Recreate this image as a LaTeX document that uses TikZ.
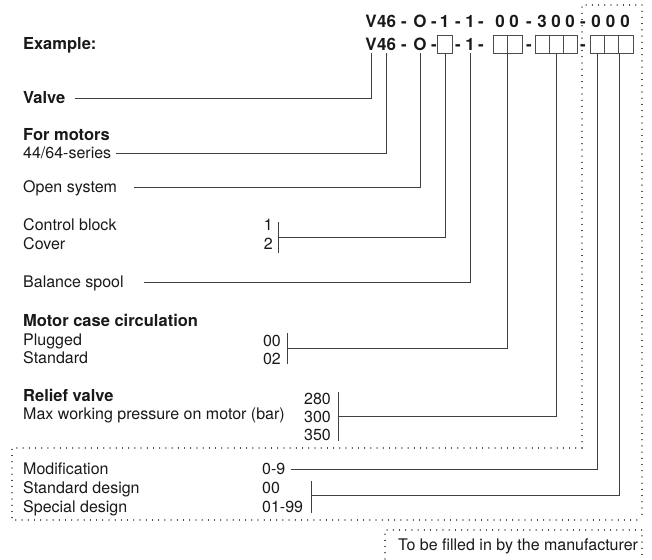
\documentclass[tikz,border=0pt]{standalone}
\usepackage{fontspec}
\setmainfont{TeX Gyre Heros}
\begin{document}
\begin{tikzpicture}[x=1pt,y=-1pt,
 txt/.style={inner sep=0pt, font=\fontsize{16}{18}\selectfont, text height=11.5pt, text depth=0pt, text=black!90},
 btxt/.style={inner sep=0pt, font=\fontsize{16.5}{18}\selectfont\bfseries, text height=11.8pt, text depth=0pt, text=black!90},
 hdr/.style={inner sep=0pt, font=\fontsize{17}{19}\selectfont\bfseries, text height=12.2pt, text depth=0pt, text=black!90},
 digbox/.style={draw=black!70, line width=0.9pt, inner sep=0pt, minimum width=14.4pt, minimum height=18pt},
 conn/.style={draw=black!75, line width=0.9pt},
 dots/.style={draw=black!85, line width=1.2pt, dash pattern=on 0.01pt off 6.2pt, line cap=round}]
\useasboundingbox (0,0) rectangle (652,559);

% header row 1
\node[hdr] (aV) at (371,21) {V};
\node[hdr] (a46) at (386.5,21) {46};
\node[hdr] (ad1) at (404,21) {-};
\node[hdr] (aO) at (420,21) {O};
\node[hdr] (ad2) at (434,21) {-};
\node[hdr] (a1) at (444.5,21) {1};
\node[hdr] (ad3) at (458,21) {-};
\node[hdr] (a1b) at (470,21) {1};
\node[hdr] (ad4) at (481,21) {-};
\node[hdr] (a0a) at (500,21) {0};
\node[hdr] (a0b) at (514,21) {0};
\node[hdr] (ad5) at (529,21) {-};
\node[hdr] (a3) at (542,21) {3};
\node[hdr] (a0c) at (556,21) {0};
\node[hdr] (a0d) at (570,21) {0};
\node[hdr] (ad6) at (583,21) {-};
\node[hdr] (a0e) at (596,21) {0};
\node[hdr] (a0f) at (610.5,21) {0};
\node[hdr] (a0g) at (625,21) {0};

% header row 2
\node[btxt, anchor=west] (ex) at (23,44) {Example:};
\node[hdr] (bV) at (371,44) {V};
\node[hdr] (b46) at (386.5,44) {46};
\node[hdr] (bd1) at (404,44) {-};
\node[hdr] (bO) at (420,44) {O};
\node[hdr] (bd2) at (434,44) {-};
\node[digbox] (b1) at (445,44) {};
\node[hdr] (bd3) at (458,44) {-};
\node[hdr] (b1b) at (470,44) {1};
\node[hdr] (bd4) at (481,44) {-};
\node[digbox] (b2a) at (500.25,44) {};
\node[digbox] (b2b) at (514.75,44) {};
\node[hdr] (bd5) at (529,44) {-};
\node[digbox, minimum width=14pt] (b3a) at (542,44) {};
\node[digbox, minimum width=14pt] (b3b) at (556,44) {};
\node[digbox, minimum width=14pt] (b3c) at (570,44) {};
\node[hdr] (bd6) at (583,44) {-};
\node[digbox, minimum width=14.3pt] (b4a) at (597.2,44) {};
\node[digbox, minimum width=14.3pt] (b4b) at (611.5,44) {};
\node[digbox, minimum width=14.3pt] (b4c) at (625.8,44) {};

% left labels
\node[btxt, anchor=west] (valve) at (23,98) {Valve};
\node[btxt, anchor=west] (motors) at (23,135) {For motors};
\node[txt, anchor=west] (series) at (23,153) {44/64-series};
\node[txt, anchor=west] (open) at (23,187) {Open system};
\node[txt, anchor=west] (cb) at (23,225) {Control block};
\node[txt, anchor=west] (cover) at (23,244) {Cover};
\node[txt, anchor=east] (n1) at (273,225) {1};
\node[txt, anchor=east] (n2) at (273,244) {2};
\node[txt, anchor=west] (bal) at (23,282) {Balance spool};
\node[btxt, anchor=west] (mcc) at (23,321) {Motor case circulation};
\node[txt, anchor=west] (plug) at (23,340) {Plugged};
\node[txt, anchor=west] (std) at (23,358) {Standard};
\node[txt, anchor=east] (n00) at (281,341) {00};
\node[txt, anchor=east] (n02) at (281,359) {02};
\node[btxt, anchor=west] (rv) at (23,396) {Relief valve};
\node[txt, anchor=west] (mwp) at (23,414) {Max working pressure on motor (bar)};
\node[txt, anchor=east] (p280) at (331,399) {280};
\node[txt, anchor=east] (p300) at (331,417) {300};
\node[txt, anchor=east] (p350) at (331,435) {350};
\node[txt, anchor=west] (mod) at (23,469) {Modification};
\node[txt, anchor=west] (sd) at (23,488) {Standard design};
\node[txt, anchor=west] (spd) at (23,507) {Special design};
\node[txt, anchor=west] (m09) at (262,469) {0-9};
\node[txt, anchor=west] (d00) at (262,488) {00};
\node[txt, anchor=west] (d0199) at (262,507) {01-99};
\node[txt, anchor=west] (mf) at (398,545) {To be filled in by the manufacturer};

% bracket coordinates
\coordinate (k1t) at (278,222); \coordinate (k1b) at (278,253); \coordinate (k1) at (278,237);
\coordinate (k2t) at (287,333); \coordinate (k2b) at (287,364); \coordinate (k2) at (287,348);
\coordinate (k3t) at (338,392); \coordinate (k3b) at (338,441); \coordinate (k3) at (338,416);
\coordinate (k4t) at (311,481); \coordinate (k4b) at (311,513); \coordinate (k4) at (311,495);

% connectors
\draw[conn] ([xshift=10pt]valve.east) -| ([yshift=-3pt]bV.south);
\draw[conn] ([xshift=5pt]series.east) -| ([yshift=-3pt]b46.south);
\draw[conn] ([xshift=17pt]open.east) -| ([yshift=-3pt]bO.south);
\draw[conn] (k1t) -- (k1b);
\draw[conn] (k1) -| (b1.south);
\draw[conn] ([xshift=20pt]bal.east) -| ([yshift=-3pt]b1b.south);
\draw[conn] (k2t) -- (k2b);
\draw[conn] (k2) -| (b2a.south east);
\draw[conn] (k3t) -- (k3b);
\draw[conn] (k3) -| (b3b.south);
\draw[conn] ([xshift=5pt]m09.east) -| (b4a.south);
\draw[conn] (k4t) -- (k4b);
\draw[conn] (k4) -| (b4b.south east);

% dotted frames
\draw[dots] (582,448) -- (582,5) -- (642,5) -- (642,520);
\draw[dots] (582,448) -- (12,448) -- (12,520) -- (642,520);
\draw[dots] (385,559) -- (385,530) -- (642,530) -- (642,559);
\end{tikzpicture}
\end{document}
